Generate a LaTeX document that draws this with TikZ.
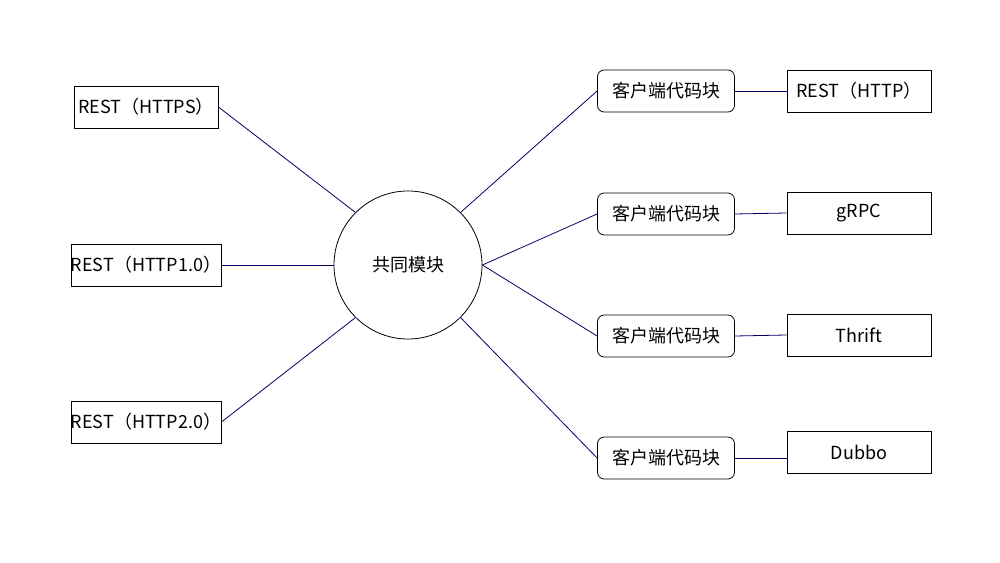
\documentclass[tikz,border=0pt]{standalone}
\usepackage{fontspec}
\setmainfont{Noto Sans CJK SC}
\begin{document}
\begin{tikzpicture}[x=0.75pt,y=-0.75pt,
  box/.style={draw,line width=0.6pt,minimum width=144*0.75pt,minimum height=42*0.75pt,inner sep=0pt,font=\fontsize{13.5}{15}\selectfont},
  rbox/.style={box,rounded corners=5pt,minimum width=137*0.75pt},
  ln/.style={draw=blue!40!black,line width=0.6pt}]
\useasboundingbox (0,0) rectangle (1000,563);
\node[draw,circle,line width=0.6pt,minimum size=148*0.75pt,font=\fontsize{13.5}{15}\selectfont] (c) at (408,265) {共同模块};
\node[box] (l1) at (146,107) {REST（HTTPS）};
\node[box] (l2) at (146,265) {REST（HTTP1.0）};
\node[box] (l3) at (146,422) {REST（HTTP2.0）};
\node[rbox] (k1) at (666,91) {客户端代码块};
\node[rbox] (k2) at (666,214) {客户端代码块};
\node[rbox] (k3) at (666,336) {客户端代码块};
\node[rbox] (k4) at (666,458) {客户端代码块};
\node[box] (r1) at (859,91) {REST（HTTP）};
\node[box] (r2) at (859,213) {gRPC};
\node[box] (r3) at (859,335) {Thrift};
\node[box] (r4) at (859,452) {Dubbo};
\draw[ln] (l1.east) -- (c.135);
\draw[ln] (l2.east) -- (c.180);
\draw[ln] (l3.east) -- (c.-135);
\draw[ln] (c.45) -- (k1.west);
\draw[ln] (c.0) -- (k2.west);
\draw[ln] (c.0) -- (k3.west);
\draw[ln] (c.-45) -- (k4.west);
\draw[ln] (k1.east) -- (r1.west);
\draw[ln] (k2.east) -- (r2.west);
\draw[ln] (k3.east) -- (r3.west);
\draw[ln] (k4.east) -- (r4.west|-k4.east);
\end{tikzpicture}
\end{document}
